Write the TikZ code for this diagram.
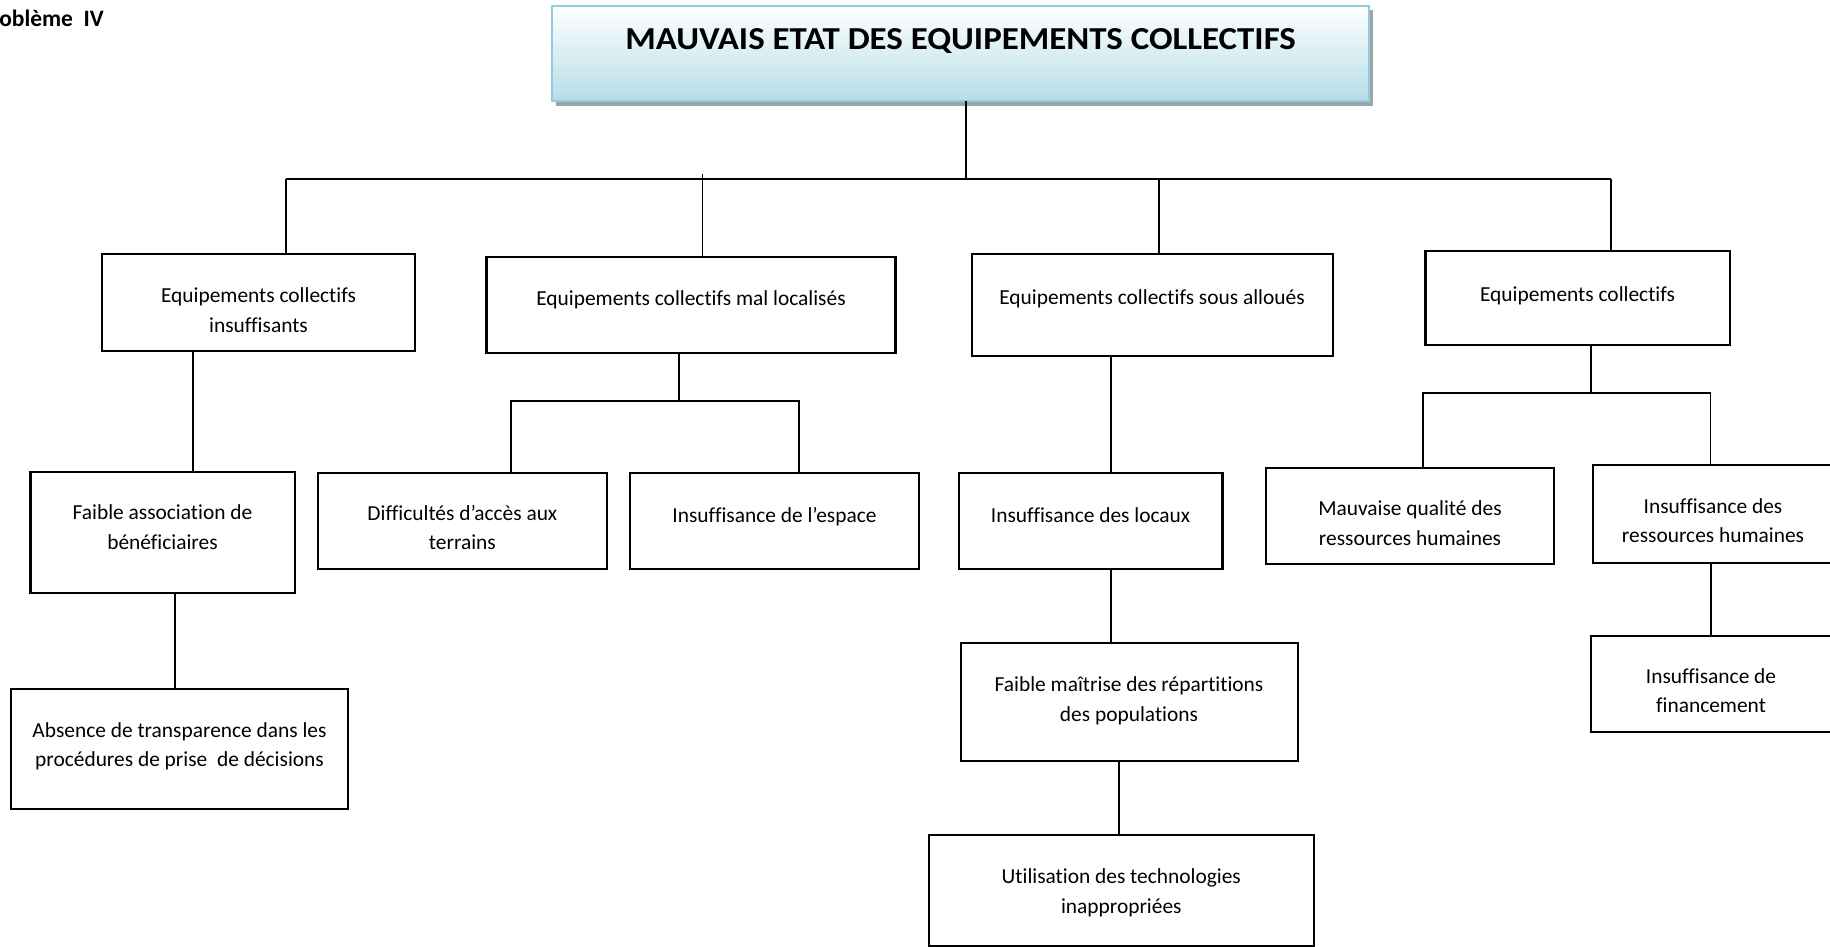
\documentclass[tikz,border=0pt]{standalone}
\usepackage{fontspec}
\setmainfont{Carlito}[Ligatures=NoCommon]
\usetikzlibrary{fit}

\definecolor{titleborder}{HTML}{93CDDD}
\definecolor{titlefill}{HTML}{B6DDE8}
\definecolor{titleshadow}{HTML}{9AA6A9}

\tikzset{
  box/.style={draw=black, line width=2.2pt, inner sep=0pt, outer sep=0pt},
  titlebox/.style={draw=titleborder, line width=2.5pt, top color=white,
    bottom color=titlefill, inner sep=0pt, outer sep=0pt},
  txt/.style={align=center, inner sep=0pt,
    font=\fontsize{21.4}{29.5}\selectfont,
    execute at begin node=\strut, execute at end node=\strut},
  link/.style={line width=1.8pt, black},
}

\begin{document}
\begin{tikzpicture}[x=1pt, y=-1pt]
\useasboundingbox (0,0) rectangle (1830,947);
\clip (0,0) rectangle (1830,947);

% heading of the sheet
\node[anchor=base west, inner sep=0pt,
      font=\fontsize{23.5}{28}\selectfont\bfseries] (probleme) at (-21.5,26.7) {Problème~~IV};

% main problem box with its drop shadow
\fill[titleshadow] (556,10) rectangle (1373,106);
\node[titlebox, fit={(552,6) (1369,101)}] (title) {};
\node[anchor=base, inner sep=0pt, font=\fontsize{32}{38}\selectfont\bfseries]
  (titletext) at (960.5,49.5) {\scalebox{1.09}[1]{MAUVAIS ETAT DES EQUIPEMENTS COLLECTIFS}};

% first level causes
\node[box, fit={(102,254) (415,351)}] (b1) {};
\node[txt] (b1t) at (258.5,314.5) {Equipements collectifs\\insuffisants};
\node[box, fit={(486.5,256.7) (895.5,352.7)}] (b2) {};
\node[txt] (b2t) at (691,300) {Equipements collectifs mal localisés};
\node[box, fit={(971.7,254) (1332.6,356)}] (b3) {};
\node[txt] (b3t) at (1152,298.3) {Equipements collectifs sous alloués};
\node[box, fit={(1425.5,251) (1729.6,345)}] (b4) {};
\node[txt] (b4t) at (1577.5,296) {Equipements collectifs};

% second level causes
\node[box, fit={(30.5,471.7) (294.6,593)}] (c1) {};
\node[txt] (c1t) at (162.5,531.5) {Faible association de\\bénéficiaires};
\node[box, fit={(318,472.7) (606.8,568.7)}] (c2) {};
\node[txt] (c2t) at (462.4,532) {Difficultés d’accès aux\\terrains};
\node[box, fit={(630,472.7) (919,568.7)}] (c3) {};
\node[txt] (c3t) at (774.5,516.3) {Insuffisance de l’espace};
\node[box, fit={(958.9,472.7) (1222.4,568.7)}] (c4) {};
\node[txt] (c4t) at (1090.6,516.6) {Insuffisance des locaux};
\node[box, fit={(1266,467.7) (1553.8,564)}] (c5) {};
\node[txt] (c5t) at (1410,527.5) {Mauvaise qualité des\\ressources humaines};
\node[box, fit={(1592.7,465) (1834,563.3)}] (c6) {};
\node[txt] (c6t) at (1713,525.2) {Insuffisance des\\ressources humaines};

% third level causes
\node[box, fit={(11,688.7) (348,809.3)}] (d1) {};
\node[txt] (d1t) at (179.5,749) {Absence de transparence dans les\\procédures de prise~~de décisions};
\node[box, fit={(960.7,643.3) (1297.7,761)}] (d2) {};
\node[txt] (d2t) at (1129,703.5) {Faible maîtrise des répartitions\\des populations};
\node[box, fit={(1590.7,636) (1834,731.7)}] (d3) {};
\node[txt] (d3t) at (1711,695.2) {Insuffisance de\\financement};

% fourth level cause
\node[box, fit={(929,834.7) (1313.7,946.5)}] (e1) {};
\node[txt] (e1t) at (1121.3,895.5) {Utilisation des technologies\\inappropriées};

% junction points of the tree
\coordinate (hub)   at (966,179);
\coordinate (barL)  at (286,179);
\coordinate (barR)  at (1611,179);
\coordinate (b2tap) at (702.5,174);
\coordinate (b3tap) at (1159,179);
\coordinate (s1)    at (193,0);
\coordinate (s2)    at (679,401);
\coordinate (s2L)   at (510.6,401);
\coordinate (s2R)   at (798.7,401);
\coordinate (s3)    at (1111,0);
\coordinate (s4)    at (1591,393);
\coordinate (s4L)   at (1422.6,393);
\coordinate (s4R)   at (1710.5,393);
\coordinate (t1)    at (175,0);
\coordinate (t2)    at (1119,0);
\coordinate (t3)    at (1711,0);

% connectors
\draw[link] (title.south -| hub) -- (hub);
\draw[link] (barL) -- (barR);
\draw[link] (barL) -- (b1.north -| barL);
\draw[link] (b2tap) -- (b2.north -| b2tap);
\draw[link] (b3tap) -- (b3.north -| b3tap);
\draw[link] (barR) -- (b4.north -| barR);

\draw[link] (b1.south -| s1) -- (c1.north -| s1);
\draw[link] (b2.south -| s2) -- (s2);
\draw[link] (c2.north -| s2L) -- (s2L) -- (s2R) -- (c3.north -| s2R);
\draw[link] (b3.south -| s3) -- (c4.north -| s3);
\draw[link] (b4.south -| s4) -- (s4);
\draw[link] (c5.north -| s4L) -- (s4L) -- (s4R) -- (c6.north -| s4R);

\draw[link] (c1.south -| t1) -- (d1.north -| t1);
\draw[link] (c4.south -| s3) -- (d2.north -| s3);
\draw[link] (c6.south -| t3) -- (d3.north -| t3);
\draw[link] (d2.south -| t2) -- (e1.north -| t2);
\end{tikzpicture}
\end{document}
